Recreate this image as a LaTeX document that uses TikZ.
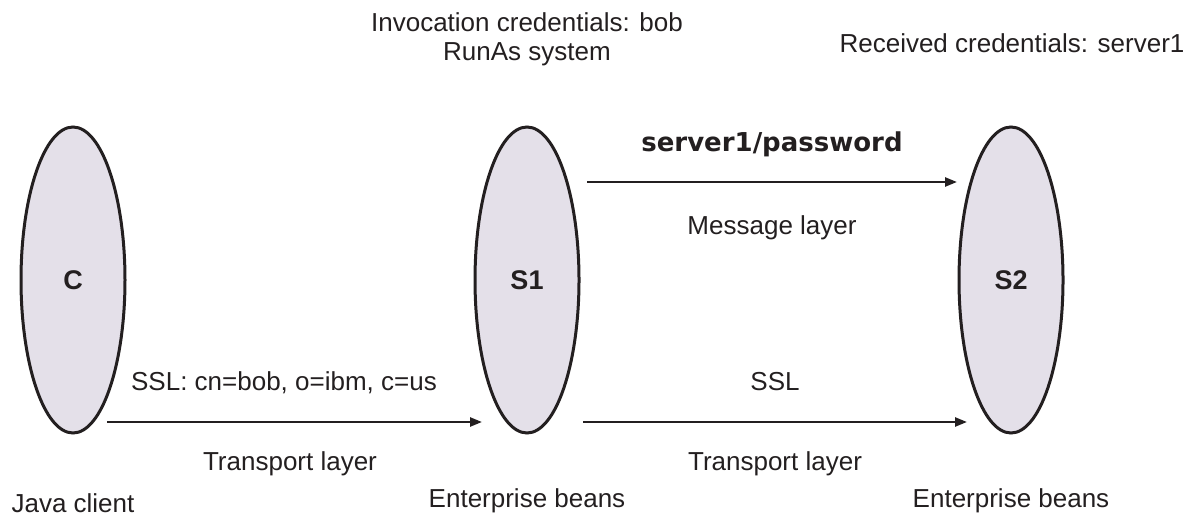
\documentclass[tikz,border=0pt]{standalone}
\usepackage{fontspec}
\setmainfont{Liberation Sans}
\newfontfamily\heavyfont{DejaVu Sans}
\usetikzlibrary{arrows.meta,shapes.geometric}
\definecolor{ink}{HTML}{231F20}
\definecolor{lav}{HTML}{E4E0E9}
\begin{document}
\begin{tikzpicture}[x=0.5pt,y=-0.5pt,
  font=\fontsize{13}{15.6}\selectfont, text=ink,
  ell/.style={ellipse, draw=ink, fill=lav, line width=1.5pt,
    minimum width=52pt, minimum height=153pt, inner sep=0pt,
    font=\fontsize{13.5}{16}\selectfont\bfseries},
  lbl/.style={anchor=base, inner sep=0pt},
  flow/.style={draw=ink, line width=1.2pt, -{Triangle[length=6pt,width=4.5pt]}}]
\useasboundingbox (0,0) rectangle (1186,518);
\node[ell] (C) at (73,280) {C};
\node[ell] (S1) at (527,280) {S1};
\node[ell] (S2) at (1011,280) {S2};
\coordinate (cs) at (107,422);
\coordinate (ce) at (482,422);
\coordinate (ms) at (587,182);
\coordinate (me) at (957,182);
\coordinate (ts) at (583,422);
\coordinate (te) at (967,422);
\draw[flow] (cs) -- (ce);
\draw[flow] (ms) -- (me);
\draw[flow] (ts) -- (te);
\node[lbl] (inv) at (527,32) {Invocation credentials: bob};
\node[lbl] (runas) at (527,61) {RunAs system};
\node[lbl] (recv) at (1012,53) {Received credentials: server1};
\node[lbl] (pw) at (772,152) {\heavyfont\bfseries server1/password};
\node[lbl] (msg) at (772,234) {Message layer};
\node[lbl] (ssl1) at (284,390) {SSL: cn=bob, o=ibm, c=us};
\node[lbl] (tl1) at (290,470) {Transport layer};
\node[lbl] (ssl2) at (775,390) {SSL};
\node[lbl] (tl2) at (775,470) {Transport layer};
\node[lbl] (java) at (73,512) {Java client};
\node[lbl] (eb1) at (527,507) {Enterprise beans};
\node[lbl] (eb2) at (1011,507) {Enterprise beans};
\end{tikzpicture}
\end{document}
